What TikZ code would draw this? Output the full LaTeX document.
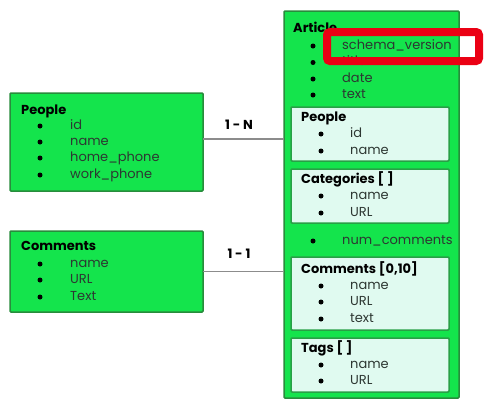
\documentclass[tikz,border=0pt]{standalone}
\usepackage{fontspec}
\setmainfont{Poppins}
\definecolor{boxgreen}{RGB}{20,228,76}
\definecolor{boxedge}{RGB}{40,140,60}
\definecolor{subfill}{RGB}{224,250,240}
\definecolor{subedge}{RGB}{40,160,70}
\definecolor{itemcol}{RGB}{45,55,50}
\definecolor{hired}{RGB}{235,0,20}
\definecolor{linkgray}{RGB}{140,140,140}
\tikzset{
  bigbox/.style={draw=boxedge, fill=boxgreen, line width=1.5pt, anchor=north west, inner sep=0, outer sep=0, rounded corners=1pt},
  subbox/.style={draw=subedge, fill=subfill, line width=1.5pt, anchor=north west, inner sep=0, outer sep=0, rounded corners=1pt},
  ttl/.style={anchor=west, inner sep=0, text height=9.5pt, text depth=3pt, font=\fontsize{13}{15}\selectfont\bfseries, text=black},
  itm/.style={anchor=west, inner sep=0, text height=9.5pt, text depth=3pt, font=\fontsize{13}{15}\selectfont, text=itemcol},
  dot/.style={circle, fill=black, inner sep=0, minimum size=5pt},
  link/.style={draw=linkgray, line width=1.5pt},
  lbl/.style={inner sep=0, font=\fontsize{13}{15}\selectfont\bfseries, text=black},
}
\newcommand\entry[5]{\node[dot] (#1b) at (#2,#4) {}; \node[itm] (#1) at (#3,#4) {#5};}
\begin{document}
\begin{tikzpicture}[x=1pt,y=-1pt]
\useasboundingbox[fill=white] (0,0) rectangle (487,402);
% left People
\node[bigbox, minimum width=193pt, minimum height=98pt] (peopleL) at (10,93) {};
\node[ttl] (peopleLt) at (21,111) {People};
\entry{pl1}{40}{70}{126}{id}
\entry{pl2}{40}{70}{142}{name}
\entry{pl3}{40}{70}{158}{home\_phone}
\entry{pl4}{40}{70}{175}{work\_phone}
% left Comments
\node[bigbox, minimum width=193pt, minimum height=81pt] (commL) at (10,231) {};
\node[ttl] (commLt) at (21,247) {Comments};
\entry{cl1}{40}{70}{264}{name}
\entry{cl2}{40}{70}{280}{URL}
\entry{cl3}{40}{70}{297}{Text}
% Article
\node[bigbox, minimum width=175pt, minimum height=387pt] (article) at (284,11) {};
\node[ttl] (articlet) at (293,29) {Article};
\entry{a1}{313}{342}{46}{schema\_version}
\entry{a2}{313}{342}{62.5}{title}
\entry{a3}{313}{342}{79}{date}
\entry{a4}{313}{342}{95}{text}
% sub People
\node[subbox, minimum width=158pt, minimum height=54pt] (subpeople) at (291,107) {};
\node[ttl] (subpeoplet) at (301,118) {People};
\entry{sp1}{321}{350}{134}{id}
\entry{sp2}{321}{350}{151}{name}
% sub Categories
\node[subbox, minimum width=158pt, minimum height=54pt] (subcat) at (291,169) {};
\node[ttl] (subcatt) at (301,180) {Categories [ ]};
\entry{sc1}{321}{350}{196}{name}
\entry{sc2}{321}{350}{213}{URL}
% num_comments
\entry{nc}{313}{342}{241}{num\_comments}
% sub Comments
\node[subbox, minimum width=158pt, minimum height=73pt] (subcomm) at (291,257) {};
\node[ttl] (subcommt) at (301,270) {Comments [0,10]};
\entry{sm1}{321}{350}{286}{name}
\entry{sm2}{321}{350}{302}{URL}
\entry{sm3}{321}{350}{319}{text}
% sub Tags
\node[subbox, minimum width=158pt, minimum height=54pt] (subtags) at (291,338) {};
\node[ttl] (subtagst) at (301,349) {Tags [ ]};
\entry{st1}{321}{350}{365}{name}
\entry{st2}{321}{350}{381}{URL}
% connectors
\draw[link] ([yshift=3pt]peopleL.east) coordinate (pa) -- (pa -| article.west);
\draw[link] (commL.east) -- (commL.east -| article.west);
\node[lbl] (rel1) at (239,125) {1 - N};
\node[lbl] (rel2) at (239,254) {1 - 1};
% highlight
\node[draw=hired, line width=8pt, rounded corners=3pt, inner sep=0, outer sep=0, minimum width=152pt, minimum height=29pt, anchor=north west] (hl) at (327,32) {};
\end{tikzpicture}
\end{document}
